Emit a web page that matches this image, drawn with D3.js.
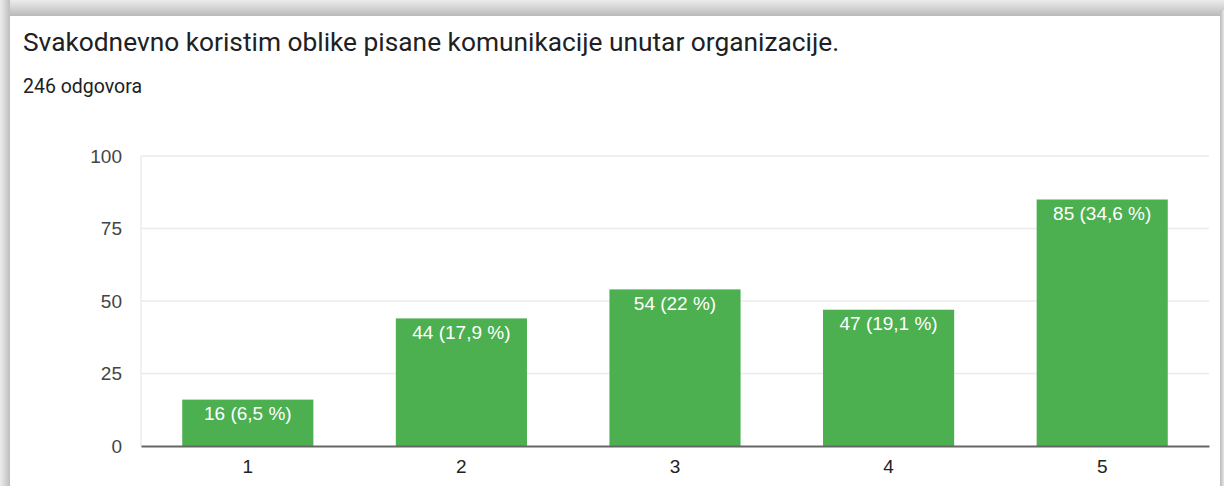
<!DOCTYPE html>
<html><head><meta charset="utf-8">
<script src="https://cdn.jsdelivr.net/npm/d3@7"></script>
<style>body{margin:0;background:#fff;}svg{display:block;}</style>
</head><body>
<svg id="c" width="1224" height="486"></svg>
<script>
const categories = ["1","2","3","4","5"];
const values = [16,44,54,47,85];
const labels = ["16 (6,5 %)","44 (17,9 %)","54 (22 %)","47 (19,1 %)","85 (34,6 %)"];
const yTicks = [0,25,50,75,100];
const title = "Svakodnevno koristim oblike pisane komunikacije unutar organizacije.";
const subtitle = "246 odgovora";

const svg = d3.select("#c");
const defs = svg.append("defs");
const gT = defs.append("linearGradient").attr("id","gt").attr("x1",0).attr("y1",0).attr("x2",0).attr("y2",1);
gT.append("stop").attr("offset","0%").attr("stop-color","#ececec");
gT.append("stop").attr("offset","45%").attr("stop-color","#d6d6d6");
gT.append("stop").attr("offset","100%").attr("stop-color","#b9b9b9");
const gL = defs.append("linearGradient").attr("id","gl").attr("x1",0).attr("y1",0).attr("x2",1).attr("y2",0);
gL.append("stop").attr("offset","0%").attr("stop-color","#ececec");
gL.append("stop").attr("offset","50%").attr("stop-color","#d6d6d6");
gL.append("stop").attr("offset","100%").attr("stop-color","#bdbdbd");
const gR = defs.append("linearGradient").attr("id","gr").attr("x1",0).attr("y1",0).attr("x2",1).attr("y2",0);
gR.append("stop").attr("offset","0%").attr("stop-color","#b9b9b9");
gR.append("stop").attr("offset","100%").attr("stop-color","#e6e6e6");

svg.append("rect").attr("x",0).attr("y",0).attr("width",1224).attr("height",16).attr("fill","url(#gt)");
svg.append("rect").attr("x",0).attr("y",0).attr("width",10).attr("height",486).attr("fill","url(#gl)");
svg.append("rect").attr("x",1220).attr("y",10).attr("width",4).attr("height",476).attr("fill","url(#gr)");
svg.append("rect").attr("x",10).attr("y",16).attr("width",1210).attr("height",470).attr("fill","#fff");

svg.append("text").attr("x",23).attr("y",51).attr("font-family","Roboto, Arial, sans-serif")
  .attr("font-size",26.3).attr("fill","#202124").text(title);
svg.append("text").attr("x",23).attr("y",93).attr("font-family","Roboto, Arial, sans-serif")
  .attr("font-size",19.5).attr("fill","#202124").text(subtitle);

const x = d3.scaleBand().domain(categories).range([141,1209]).paddingInner(0.386).paddingOuter(0.193);
const y = d3.scaleLinear().domain([0,100]).range([446,156]);

const font = "'Liberation Sans', Arial, sans-serif";
// grid
svg.append("g").selectAll("line").data(yTicks.filter(d=>d>0)).join("line")
  .attr("x1",141).attr("x2",1209).attr("y1",d=>y(d)).attr("y2",d=>y(d))
  .attr("stroke","#ebebeb").attr("stroke-width",1.5);
svg.append("line").attr("x1",141).attr("x2",141).attr("y1",156).attr("y2",446)
  .attr("stroke","#ebebeb").attr("stroke-width",1.5);

const yAxis = svg.append("g").attr("transform","translate(141,0)")
  .call(d3.axisLeft(y).tickValues(yTicks).tickSize(0).tickPadding(19));
yAxis.select(".domain").remove();
yAxis.selectAll("text").attr("font-family",font).attr("font-size",19).attr("fill","#444");

svg.append("g").selectAll("rect").data(values).join("rect")
  .attr("x",(d,i)=>x(categories[i])).attr("width",x.bandwidth())
  .attr("y",d=>y(d)).attr("height",d=>y(0)-y(d)).attr("fill","#4caf50");

svg.append("g").selectAll("text").data(values).join("text")
  .attr("x",(d,i)=>x(categories[i])+x.bandwidth()/2).attr("y",d=>y(d)+20.5)
  .attr("text-anchor","middle").attr("font-family",font).attr("font-size",19).attr("fill","#fff")
  .text((d,i)=>labels[i]);

const xAxis = svg.append("g").attr("transform","translate(0,446)")
  .call(d3.axisBottom(x).tickSize(0).tickPadding(14));
xAxis.select(".domain").attr("stroke","#666").attr("stroke-width",2);
xAxis.selectAll("text").attr("font-family",font).attr("font-size",19).attr("fill","#222");
</script>
</body></html>
